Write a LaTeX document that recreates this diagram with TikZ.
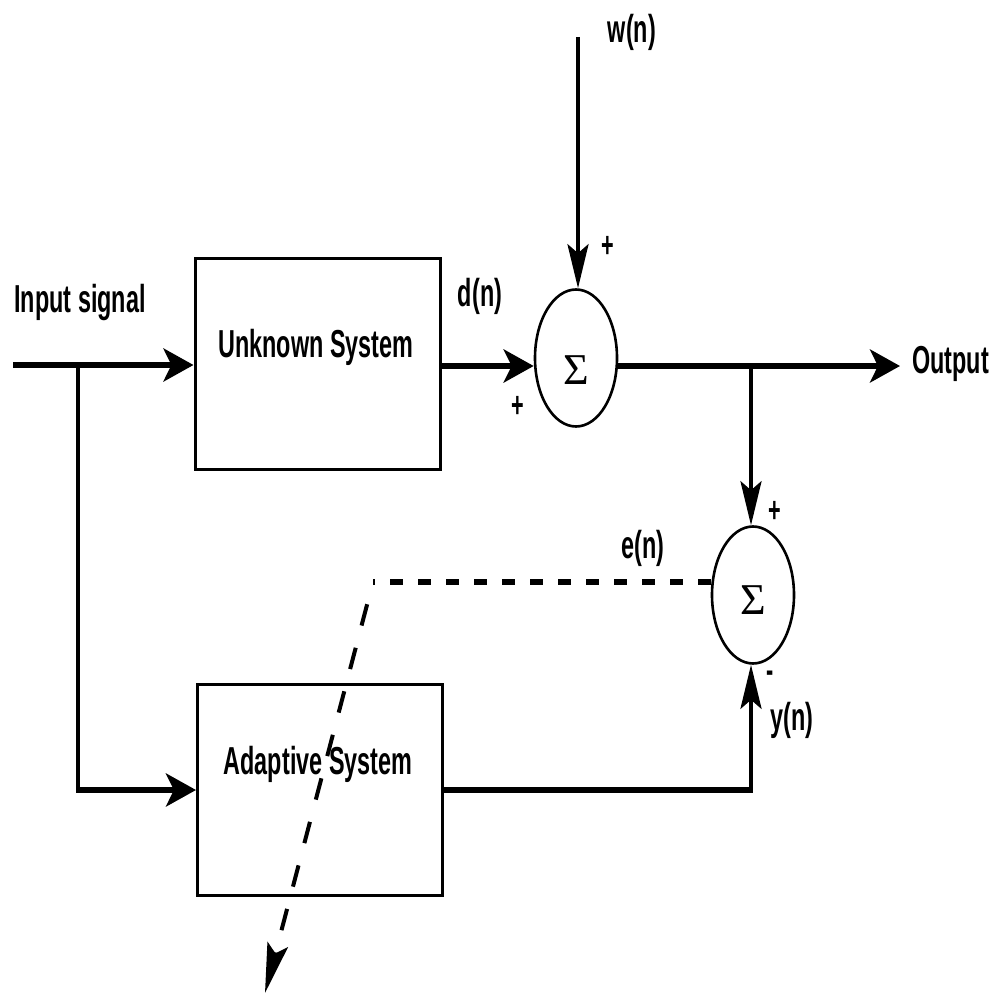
\documentclass[tikz,border=0pt]{standalone}
\usepackage{fontspec}
\newfontfamily\lab{Liberation Sans}[FakeStretch=0.6]
\newfontfamily\sigfont{Liberation Serif}
\usetikzlibrary{arrows.meta,shapes.geometric}
\begin{document}
\begin{tikzpicture}[x=1pt,y=-1pt,
  txt/.style={font=\lab\bfseries\fontsize{39}{42}\selectfont, inner sep=0pt},
  pm/.style={font=\lab\bfseries\fontsize{36}{38}\selectfont, inner sep=0pt},
  blk/.style={draw, line width=3pt, minimum width=245pt, minimum height=211pt, inner sep=0pt},
  sumnode/.style={draw, ellipse, line width=2.6pt, minimum width=82pt, minimum height=137pt, inner sep=0pt,
    font=\sigfont\fontsize{44}{46}\selectfont, text depth=0pt},
  thickline/.style={line width=6.5pt},
  medline/.style={line width=4pt},
  thinline/.style={line width=3.5pt},
  bigtip/.style={-{Stealth[length=30pt,width=33pt,inset=8pt]}},
  slimtip/.style={-{Stealth[length=44pt,width=21pt,inset=9pt]}},
]
\useasboundingbox (0,0) rectangle (996,995);

% blocks
\node[blk] (unk) at (317.5,363.5) {};
\node[txt] (unkt) at (316,347) {Unknown System};
\node[blk] (ada) at (320,789.5) {};
\node[txt] (adat) at (318,764) {Adaptive System};
\node[sumnode, text height=53pt] (s1) at (576,358) {Σ};
\node[sumnode, text height=39pt] (s2) at (753,595) {Σ};

% level coordinates
\coordinate (in) at (13,365);
\coordinate (b1) at (78,365);
\coordinate (lvl1) at (0,366);
\coordinate (outtip) at (900,366);
\coordinate (b2) at (751,366);
\coordinate (wtop) at (578,37);
\coordinate (lvly) at (0,790);
\coordinate (ycorner) at (751,790);
\coordinate (dlvl) at (0,582);
\coordinate (dcorner) at (373,582);
\coordinate (dtip) at (265,993);

% input
\draw[thickline,bigtip] (in) -- (unk.west |- in);
\draw[thinline] (b1) -- (b1 |- lvly);
\draw[thickline,bigtip] ([xshift=-1.75pt]b1 |- lvly) -- (ada.west |- lvly);

% unknown -> sum1
\draw[thickline,bigtip] (unk.east |- lvl1) -- (s1.west |- lvl1);
% w(n)
\draw[medline,slimtip] (wtop) -- (s1.north -| wtop);
% output
\draw[thickline,bigtip] (s1.east |- lvl1) -- (outtip);
% branch to sum2
\draw[medline,slimtip] (b2) -- (s2.north -| b2);
% adaptive -> sum2
\draw[thickline] (ada.east |- lvly) -- ([xshift=2pt]ycorner);
\draw[medline,slimtip] ([yshift=3pt]ycorner) -- (s2.south -| ycorner);
% error feedback (dashed)
\draw[line width=6pt, dash pattern=on 13pt off 15pt] (s2.west |- dlvl) -- (dcorner);
\draw[line width=4pt, dash pattern=on 22pt off 23pt, dash phase=22pt,
  -{Stealth[length=50pt,width=21pt,inset=9pt]}] (dcorner) -- (dtip);

% labels
\node[txt] (lin) at (80,303) {Input signal};
\node[txt] (ldn) at (480,296) {d(n)};
\node[txt] (lwn) at (632,32) {w(n)};
\node[txt] (len) at (643,548) {e(n)};
\node[txt] (lyn) at (792,720) {y(n)};
\node[txt,anchor=west] (lout) at (912,364) {Output};
\node[pm] (p1) at (608,247) {+};
\node[pm] (p2) at (518,407) {+};
\node[pm] (p3) at (775,512) {+};
\node[pm] (m1) at (770,677) {-};
\end{tikzpicture}
\end{document}
